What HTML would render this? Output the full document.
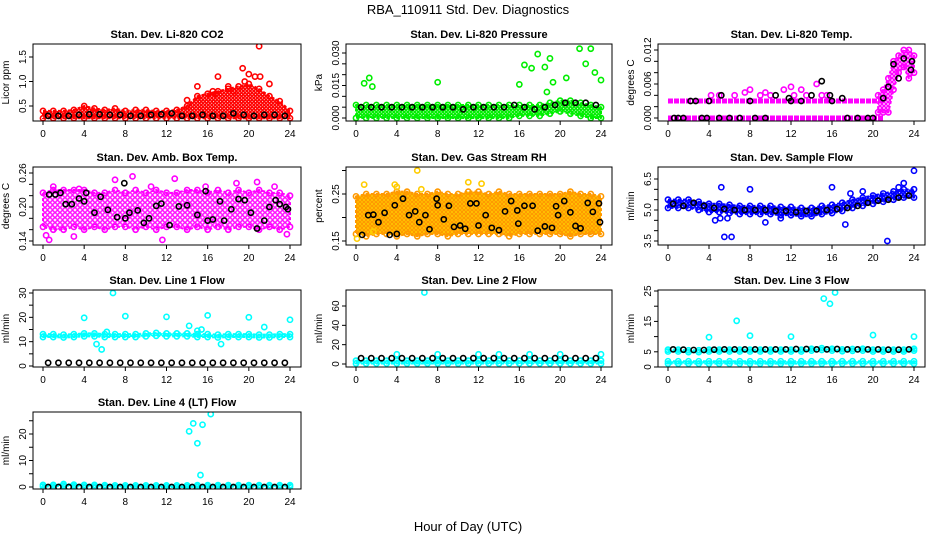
<!DOCTYPE html>
<html><head><meta charset="utf-8"><style>
html,body{margin:0;padding:0;background:#fff}
svg{display:block;font-family:"Liberation Sans",Arial,sans-serif}
</style></head><body>
<svg id="chart" width="936" height="540" viewBox="0 0 936 540" xmlns="http://www.w3.org/2000/svg">
<rect width="936" height="540" fill="#fff"/>
<defs id="defs"></defs>
<text x="468" y="14" text-anchor="middle" font-size="13">RBA_110911  Std. Dev. Diagnostics</text>
<text x="468" y="531" text-anchor="middle" font-size="13">Hour of Day (UTC)</text>
<g id="panels"></g>
</svg>
<script>
// ---------- data ----------
const hours = [0,1,2,3,4,5,6,7,8,9,10,11,12,13,14,15,16,17,18,19,20,21,22,23,24];
const halfHours = [0.5,1.5,2.5,3.5,4.5,5.5,6.5,7.5,8.5,9.5,10.5,11.5,12.5,13.5,14.5,15.5,16.5,17.5,18.5,19.5,20.5,21.5,22.5,23.5];

// CO2
const co2Lo = [.25,.25,.25,.25,.25,.25,.25,.25,.25,.25,.25,.25,.25,.25,.25,.25,.25,.25,.25,.25,.25,.25,.25,.25,.25];
const co2Hi = [.4,.4,.4,.42,.5,.45,.42,.45,.4,.42,.42,.4,.4,.42,.5,.7,.75,.8,.85,.9,.95,.85,.7,.6,.4];
const co2Black = [.3,.3,.3,.32,.33,.33,.32,.32,.3,.3,.32,.33,.35,.3,.3,.32,.3,.3,.35,.32,.3,.32,.32,.3];
const co2OutX = [21,19.4,17,20,20.6,21.1,19.6,22,15,16.5,18,14,18.5,16.8];
const co2OutY = [1.72,1.27,1.1,1.15,1.1,1.1,1.0,0.95,0.9,0.8,0.9,0.62,0.8,0.75];

// Pressure
const prLo = [0,0,0,0,0,0,0,0,0,0,0,0,0,0,0,0,.001,.001,.001,.002,.003,.002,.001,0,0];
const prHi = [.006,.006,.006,.006,.006,.006,.006,.006,.006,.006,.006,.006,.006,.006,.006,.006,.006,.006,.006,.007,.008,.008,.007,.006,.005];
const prBlack = [.005,.005,.005,.005,.005,.005,.005,.005,.005,.005,.004,.005,.005,.005,.005,.006,.005,.004,.005,.006,.007,.007,.007,.006];
const prOutX = [.8,1.3,1.6,8,16,16.5,17.2,17.8,18.5,18.7,19,19.3,20.6,21.9,22.5,23,23.4,24];
const prOutY = [.016,.0185,.0145,.0165,.0155,.0245,.023,.0295,.0235,.012,.0275,.0165,.0185,.032,.025,.032,.021,.0175];

// Temp
const tpLevelHours = [0,2,4,6,8,10,12,14,16,18,20,21];
const tpLevelA = [0,0,0,0,0,0,0,0,0,0,0,0];
const tpLevelB = [.003,.003,.003,.003,.003,.003,.003,.003,.003,.003,.003,.003];
const tpMidX = [4.2,5,6.5,7.5,8,9,9.5,10,11.3,12,12.3,13,13.5,14.5,15,15.5];
const tpMidY = [.004,.004,.004,.0045,.005,.004,.0045,.004,.005,.0055,.004,.005,.004,.006,.004,.004];
const tpRampX = [20.5,21,21.5,22,22.5,23,23.5,24];
const tpRampLo = [.001,.001,.001,.005,.008,.009,.007,.008];
const tpRampHi = [.004,.005,.007,.01,.011,.012,.012,.011];
const tpBlackX = [.6,1,1.5,2.2,2.7,3.3,3.8,4,5,5.2,6,7,8,8.5,9.5,10.5,11.8,12,13,14,15,15.8,16,17,17.5,18.5,19.5,20,21,21.5,22,22.5,23,23.7,23.8];
const tpBlackY = [0,0,0,.003,.003,0,0,.003,0,.004,0,0,.003,0,0,.004,.0035,.003,.003,.004,.0065,.004,.003,.0035,0,0,0,0,.0035,.0055,.0095,.007,.0105,.0085,.01];

// Amb box temp
const abLo = [.165,.16,.16,.165,.16,.165,.16,.165,.165,.16,.165,.16,.165,.165,.16,.165,.16,.165,.16,.165,.165,.16,.165,.16,.165];
const abHi = [.225,.23,.23,.23,.23,.225,.225,.23,.225,.23,.225,.23,.225,.225,.23,.23,.225,.23,.225,.23,.225,.23,.225,.225,.22];
const abOutX = [.3,.6,1,3,3.5,7,8.7,10.5,11.6,12.8,15.8,18.8,20.8,22.5,23.7];
const abOutY = [.15,.142,.236,.148,.232,.248,.254,.236,.142,.25,.236,.242,.244,.236,.152];
const abBlackX = [.6,1.2,1.7,2.2,2.8,3.5,4,4.2,5,5.6,6.3,7.2,7.9,8,8.4,9.2,9.8,10.3,11,11.5,12.3,13.2,14,15,15.8,16,16.5,17.2,17.6,18.3,19,19.6,20.2,20.8,21.5,22,22.6,23,23.6,23.8];
const abBlackY = [.222,.222,.225,.205,.205,.215,.21,.225,.19,.218,.195,.182,.242,.18,.19,.194,.172,.18,.202,.206,.168,.201,.203,.186,.228,.176,.178,.21,.176,.196,.214,.212,.19,.162,.176,.2,.212,.205,.2,.196];

// Gas stream RH
const rhLo = [.165,.16,.165,.165,.16,.165,.16,.165,.165,.16,.165,.165,.165,.165,.165,.16,.165,.165,.165,.165,.165,.16,.165,.165,.165];
const rhHi = [.245,.25,.25,.25,.255,.255,.25,.25,.255,.25,.25,.255,.255,.25,.255,.25,.25,.25,.25,.25,.25,.255,.25,.25,.245];
const rhOutX = [.8,3.8,6,11,12.3,4,.1,1.7,6.4];
const rhOutY = [.27,.27,.3,.275,.272,.265,.155,.17,.26];
const rhBlackX = [.6,1.2,1.7,2.2,2.8,3.3,3.8,4,4.6,5.2,5.8,6.2,6.8,7.2,7.9,8,8.6,9.1,9.6,10.2,10.7,11.2,11.8,12,12.7,13.3,14,14.6,15.2,15.8,15.9,16.5,17.3,17.8,18.5,19.2,19.6,19.8,20.4,21,21.5,22,22.7,23.2,23.8,23.9];
const rhBlackY = [.163,.205,.206,.19,.21,.163,.226,.165,.24,.205,.213,.19,.205,.175,.24,.226,.196,.225,.18,.183,.176,.23,.23,.183,.205,.178,.173,.213,.235,.215,.187,.225,.225,.172,.181,.178,.224,.205,.235,.211,.182,.177,.231,.212,.23,.19];

// Sample flow
const sfMid = [5.3,5.3,5.3,5.2,5.1,5.1,5.05,5.0,5.0,5.0,5.0,4.95,4.95,4.9,4.9,5.0,5.05,5.15,5.3,5.4,5.5,5.6,5.7,5.8,5.8];
const sfBlack = [5.3,5.2,5.35,5.2,5.1,5.05,5.0,5.0,5.0,5.0,4.95,4.95,4.9,4.95,4.95,5.0,5.05,5.1,5.2,5.35,5.45,5.5,5.6,5.7];
const sfOutX = [5.2,8,4.6,5.1,5.5,5.8,6.2,11,16,17.3,17.8,19,21.4,22.5,23,24,9.5];
const sfOutY = [6.1,6.0,4.5,4.6,3.7,4.6,3.7,4.6,6.1,4.3,5.8,5.9,3.5,6.1,6.3,6.9,4.4];

// Line 1 flow
const l1Mid = [12.5,12.5,12.3,12.5,12.8,12.8,12.5,12.5,12.5,12.5,12.8,13,12.8,12.8,12.8,12.5,12.5,12.3,12.5,12.5,12.5,12.3,12.3,12.5,12.5];
const l1Black = [1.3,1.3,1.3,1.3,1.3,1.3,1.3,1.3,1.3,1.3,1.3,1.3,1.3,1.3,1.3,1.3,1.3,1.3,1.3,1.3,1.3,1.3,1.3,1.3];
const l1OutX = [4,5.2,5.7,6.8,8,12,14.2,15,16,17.3,20,21.5,24,6.2,15.4];
const l1OutY = [19.8,9,6.8,30,20.5,20.2,16.5,14.5,20.8,9,20,16,19,14,15];

// Line 2 flow
const l2Mid = [2,2,2,2,2,2,2,2,2,2,2,2,2,2,2,2,2,2,2,2,2,2,2,2,2];
const l2Black = [6,6,6,6,6,6,6,6,6,6,6,6,6,6,6,6,6,6,6,6,6,6,6,6];
const l2OutX = [6.7,4,8,12,14,17,20,24];
const l2OutY = [74,10,10,10,10,10,10,10];

// Line 3 flow
const l3Mid = [1.5,1.5,1.5,1.5,1.5,1.5,1.5,1.5,1.5,1.5,1.5,1.5,1.5,1.5,1.5,1.5,1.5,1.5,1.5,1.5,1.5,1.5,1.5,1.5,1.5];
const l3Upper = [5.5,5.5,5.3,5.3,5.5,5.5,5.5,5.5,5.5,5.5,5.5,5.5,5.5,5.5,5.8,6,5.8,5.6,5.7,5.8,5.5,5.5,5.5,5.5,5.8];
const l3Black = [5.8,5.7,5.6,5.6,5.7,5.8,5.8,5.8,5.8,5.8,5.8,5.8,5.9,5.9,5.8,5.8,5.9,5.8,5.8,5.8,5.8,5.7,5.7,5.8];
const l3OutX = [4,6.7,8,12,15.2,15.8,16.3,20,24];
const l3OutY = [9.8,15.2,10.3,10,22.5,20.8,24.5,10.5,10];

// Line 4 flow
const l4Mid = [.5,.5,.8,.6,.5,.5,.4,.3,.3,.3,.3,.3,.3,.3,.3,.4,.4,.4,.4,.4,.4,.4,.4,.4,.4];
const l4Black = [0,0,0,0,0,0,0,0,0,0,0,0,0,0,0,0,0,0,0,0,0,0,0,0];
const l4OutX = [14.2,14.6,15,15.3,15.5,16.3];
const l4OutY = [21,24,16.5,4.5,23.5,27.5];

// ---------- drawing ----------
const NS = 'http://www.w3.org/2000/svg';
const root = document.getElementById('panels');
const defs = document.getElementById('defs');
const colX0 = [43,356,668], colX24 = [290,601,914];
const rowTop = [44,167,290,412], rowBot = [121,245,367,489];
function mk(tag, attrs, parent){const e=document.createElementNS(NS,tag);for(const k in attrs)e.setAttribute(k,attrs[k]);(parent||root).appendChild(e);return e;}

const patCache = {};
function pattern(color, bg, size){
  const id = 'pat'+color.replace('#','')+(bg?bg.replace('#',''):'n')+size;
  if(patCache[id]) return id;
  const p = mk('pattern',{id:id,width:size,height:size,patternUnits:'userSpaceOnUse'},defs);
  if(bg) mk('rect',{width:size,height:size,fill:bg},p);
  mk('circle',{cx:size/2,cy:size/2,r:size*0.36,fill:'none',stroke:color,'stroke-width':1.4},p);
  patCache[id]=1; return id;
}

function panel(p){
  const g = mk('g',{});
  
  
  const x0=colX0[p.col], x24=colX24[p.col];
  const top=rowTop[p.row], bot=rowBot[p.row];
  const L=x0-10, R=x24+11;
  const xs = h => x0 + (x24-x0)*h/24;
  const ys = v => p.py1 + (v-p.v1)*(p.py2-p.py1)/(p.v2-p.v1);
  const cl = 'clip'+p.name;
  const cp = mk('clipPath',{id:cl},g); mk('rect',{x:L,y:top,width:R-L,height:bot-top},cp);
  const data = mk('g',{'clip-path':'url(#'+cl+')'},g);
  
  
  p.draw(data, xs, ys);
  const box = mk('rect',{x:L,y:top,width:R-L,height:bot-top,fill:'none',stroke:'#000','stroke-width':1},g);
  
  
  const t = mk('text',{x:(L+R)/2,y:top-6,'text-anchor':'middle','font-size':11,'font-weight':'bold'},g);
  t.textContent = p.title;
  
  
  const xa = mk('g',{},g);
  
  
  mk('line',{x1:x0,y1:bot,x2:x24,y2:bot,stroke:'#000'},xa);
  [0,4,8,12,16,20,24].forEach(h=>{
    mk('line',{x1:xs(h),y1:bot,x2:xs(h),y2:bot+4,stroke:'#000'},xa);
    const lt=mk('text',{x:xs(h),y:bot+16,'text-anchor':'middle','font-size':10},xa); lt.textContent=h;
  });
  const ya = mk('g',{},g);
  
  
  mk('line',{x1:L,y1:ys(p.ticks[0]),x2:L,y2:ys(p.ticks[p.ticks.length-1]),stroke:'#000'},ya);
  p.ticks.forEach(v=>mk('line',{x1:L-4,y1:ys(v),x2:L,y2:ys(v),stroke:'#000'},ya));
  p.labels.forEach((lab,i)=>{
    const y=ys(p.labelVals[i]);
    const lt=mk('text',{x:L-7,y:y,'text-anchor':'middle','font-size':10,transform:'rotate(-90 '+(L-7)+' '+y+')'},ya);
    lt.textContent=lab;
  });
  const yl = mk('text',{x:L-24,y:(top+bot)/2,'text-anchor':'middle','font-size':10,transform:'rotate(-90 '+(L-24)+' '+((top+bot)/2)+')'},g);
  yl.textContent = p.ylab;
  
  
}
function circ(par, x, y, color){
  return mk('circle',{cx:x,cy:y,r:2.6,fill:'none',stroke:color,'stroke-width':1.6},par);
}
function band(par, xs, ys, hrs, lo, hi, color, bg, size){
  let d='M'+hrs.map((h,i)=>xs(h)+','+ys(hi[i])).join('L');
  for(let i=hrs.length-1;i>=0;i--) d+='L'+xs(hrs[i])+','+ys(lo[i]);
  const pid = pattern(color, bg||null, size||4);
  const b = mk('path',{d:d+'Z',fill:'url(#'+pid+')',stroke:color,'stroke-width':2,'stroke-linejoin':'round','stroke-dasharray':'3 2'},par);
  
  
  hrs.forEach((h,i)=>{circ(par,xs(h),ys(hi[i]),color);circ(par,xs(h),ys(lo[i]),color);});
}
function pts(par, xs, ys, X, Y, color){
  X.forEach((h,i)=>{const c=circ(par,xs(h),ys(Y[i]),color);
    
    });
}
function blackRow(par, xs, ys, X, Y){ pts(par,xs,ys,X,Y,'#000'); }
function line(par, xs, ys, hrs, vals, color){
  const d='M'+hrs.map((h,i)=>xs(h)+','+ys(vals[i])).join('L');
  const l = mk('path',{d:d,fill:'none',stroke:color,'stroke-width':5,'stroke-dasharray':'5 1'},par);
  
  
}
const offs = (arr,d)=>arr.map(v=>v+d);

const panels = [
 {name:'co2-panel',col:0,row:0,title:'Stan. Dev. Li-820 CO2',ylab:'Licor ppm',v1:.5,py1:106,v2:1.5,py2:57,
  ticks:[.5,1,1.5],labelVals:[.5,1,1.5],labels:['0.5','1.0','1.5'],
  draw:(g,xs,ys)=>{band(g,xs,ys,hours,co2Lo,co2Hi,'#f00',null,3.5);pts(g,xs,ys,co2OutX,co2OutY,'#f00');blackRow(g,xs,ys,halfHours,co2Black);}},
 {name:'pressure-panel',col:1,row:0,title:'Stan. Dev. Li-820 Pressure',ylab:'kPa',v1:0,py1:118,v2:.03,py2:53,
  ticks:[0,.005,.01,.015,.02,.025,.03],labelVals:[0,.015,.03],labels:['0.000','0.015','0.030'],
  draw:(g,xs,ys)=>{band(g,xs,ys,hours,prLo,prHi,'#0e0',null,3.5);pts(g,xs,ys,prOutX,prOutY,'#0e0');blackRow(g,xs,ys,halfHours,prBlack);}},
 {name:'temp-panel',col:2,row:0,title:'Stan. Dev. Li-820 Temp.',ylab:'degrees C',v1:0,py1:118,v2:.012,py2:50,
  ticks:[0,.002,.004,.006,.008,.01,.012],labelVals:[0,.006,.012],labels:['0.000','0.006','0.012'],
  draw:(g,xs,ys)=>{line(g,xs,ys,tpLevelHours,tpLevelA,'#f0f');line(g,xs,ys,tpLevelHours,tpLevelB,'#f0f');
    band(g,xs,ys,tpRampX,tpRampLo,tpRampHi,'#f0f',null,4);pts(g,xs,ys,tpMidX,tpMidY,'#f0f');pts(g,xs,ys,tpBlackX,tpBlackY,'#000');}},
 {name:'amb-box-temp-panel',col:0,row:1,title:'Stan. Dev. Amb. Box Temp.',ylab:'degrees C',v1:.14,py1:241,v2:.26,py2:173,
  ticks:[.14,.16,.18,.2,.22,.24,.26],labelVals:[.14,.2,.26],labels:['0.14','0.20','0.26'],
  draw:(g,xs,ys)=>{band(g,xs,ys,hours,abLo,abHi,'#f0f',null,5);pts(g,xs,ys,abOutX,abOutY,'#f0f');pts(g,xs,ys,abBlackX,abBlackY,'#000');}},
 {name:'gas-rh-panel',col:1,row:1,title:'Stan. Dev. Gas Stream RH',ylab:'percent',v1:.15,py1:241,v2:.25,py2:194,
  ticks:[.15,.2,.25,.3],labelVals:[.15,.25],labels:['0.15','0.25'],
  draw:(g,xs,ys)=>{band(g,xs,ys,hours,rhLo,rhHi,'#f90','#fd0',4);pts(g,xs,ys,rhOutX,rhOutY,'#fc0');pts(g,xs,ys,rhBlackX,rhBlackY,'#000');}},
 {name:'sample-flow-panel',col:2,row:1,title:'Stan. Dev. Sample Flow',ylab:'ml/min',v1:3.5,py1:241,v2:6.5,py2:179,
  ticks:[3.5,4,4.5,5,5.5,6,6.5],labelVals:[3.5,5,6.5],labels:['3.5','5.0','6.5'],
  draw:(g,xs,ys)=>{band(g,xs,ys,hours,offs(sfMid,-.2),offs(sfMid,.2),'#00f',null,3.5);pts(g,xs,ys,sfOutX,sfOutY,'#00f');blackRow(g,xs,ys,halfHours,sfBlack);}},
 {name:'line1-flow-panel',col:0,row:2,title:'Stan. Dev. Line 1 Flow',ylab:'ml/min',v1:0,py1:366,v2:30,py2:293,
  ticks:[0,5,10,15,20,25,30],labelVals:[0,10,20,30],labels:['0','10','20','30'],
  draw:(g,xs,ys)=>{band(g,xs,ys,hours,offs(l1Mid,-.6),offs(l1Mid,.6),'#0ff',null,3.5);pts(g,xs,ys,l1OutX,l1OutY,'#0ff');blackRow(g,xs,ys,halfHours,l1Black);}},
 {name:'line2-flow-panel',col:1,row:2,title:'Stan. Dev. Line 2 Flow',ylab:'ml/min',v1:0,py1:364,v2:60,py2:306,
  ticks:[0,20,40,60],labelVals:[0,20,40,60],labels:['0','20','40','60'],
  draw:(g,xs,ys)=>{band(g,xs,ys,hours,offs(l2Mid,-1.5),offs(l2Mid,1.5),'#0ff',null,3.5);pts(g,xs,ys,l2OutX,l2OutY,'#0ff');blackRow(g,xs,ys,halfHours,l2Black);}},
 {name:'line3-flow-panel',col:2,row:2,title:'Stan. Dev. Line 3 Flow',ylab:'ml/min',v1:0,py1:367,v2:25,py2:291,
  ticks:[0,5,10,15,20,25],labelVals:[0,5,15,25],labels:['0','5','15','25'],
  draw:(g,xs,ys)=>{band(g,xs,ys,hours,offs(l3Mid,-.4),offs(l3Mid,.4),'#0ff',null,3.5);band(g,xs,ys,hours,offs(l3Upper,-.4),offs(l3Upper,.2),'#0ff',null,3.5);
    pts(g,xs,ys,l3OutX,l3OutY,'#0ff');blackRow(g,xs,ys,halfHours,l3Black);}},
 {name:'line4-flow-panel',col:0,row:3,title:'Stan. Dev. Line 4 (LT) Flow',ylab:'ml/min',v1:0,py1:487,v2:20,py2:434,
  ticks:[0,5,10,15,20,25],labelVals:[0,10,20],labels:['0','10','20'],
  draw:(g,xs,ys)=>{band(g,xs,ys,hours,offs(l4Mid,-.3),offs(l4Mid,.3),'#0ff',null,3.5);pts(g,xs,ys,l4OutX,l4OutY,'#0ff');blackRow(g,xs,ys,halfHours,l4Black);}}
];
panels.forEach(panel);
</script>
</body></html>
